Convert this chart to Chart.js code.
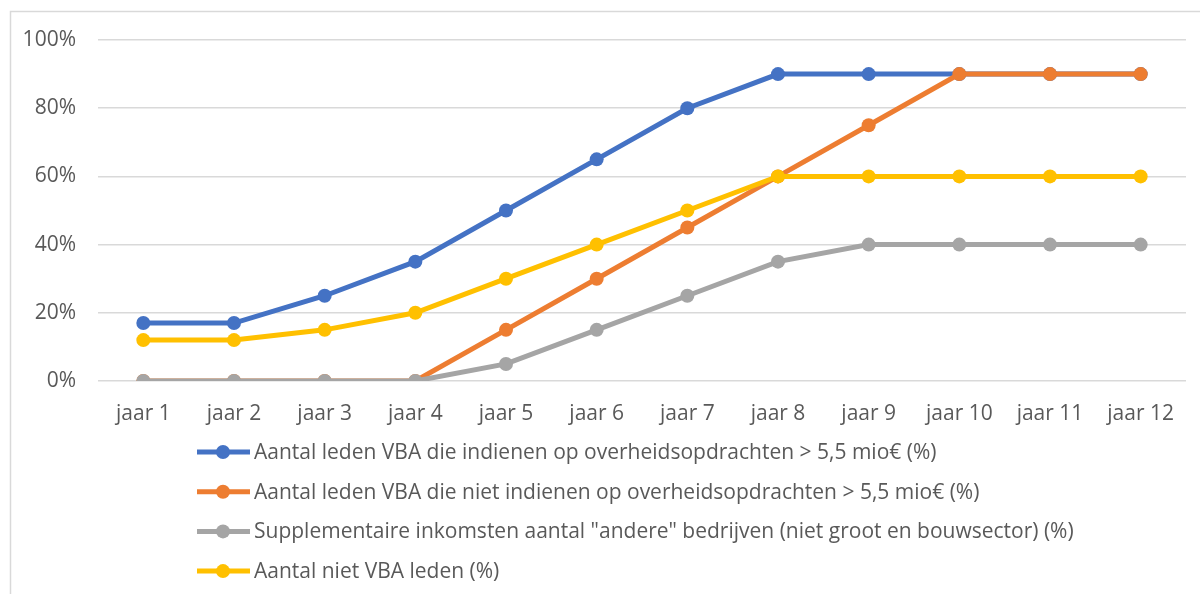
<!DOCTYPE html>
<html lang="nl">
<head>
    <meta charset="UTF-8">
    <title>VBA leden</title>
    <script src="https://cdn.jsdelivr.net/npm/chart.js"></script>
    <style>
        html, body {
            margin: 0;
            padding: 0;
            background: #ffffff;
        }
        #wrap {
            width: 1200px;
            height: 594px;
        }
    </style>
</head>
<body>
    <div id="wrap"><canvas id="chart" width="1200" height="594"></canvas></div>

    <script>
        // data
        var categories = ['jaar 1', 'jaar 2', 'jaar 3', 'jaar 4', 'jaar 5', 'jaar 6',
                          'jaar 7', 'jaar 8', 'jaar 9', 'jaar 10', 'jaar 11', 'jaar 12'];
        var ledenIndienen = [17, 17, 25, 35, 50, 65, 80, 90, 90, 90, 90, 90];
        var ledenNietIndienen = [0, 0, 0, 0, 15, 30, 45, 60, 75, 90, 90, 90];
        var andereBedrijven = [0, 0, 0, 0, 5, 15, 25, 35, 40, 40, 40, 40];
        var nietLeden = [12, 12, 15, 20, 30, 40, 50, 60, 60, 60, 60, 60];
        var yTicks = [0, 20, 40, 60, 80, 100];

        var labels = [
            'Aantal leden VBA die indienen op overheidsopdrachten > 5,5 mio€ (%)',
            'Aantal leden VBA die niet indienen op overheidsopdrachten > 5,5 mio€ (%)',
            'Supplementaire inkomsten aantal "andere" bedrijven (niet groot en bouwsector) (%)',
            'Aantal niet VBA leden (%)'
        ];
        var colors = ['#4472C4', '#ED7D31', '#A5A5A5', '#FFC000'];
        var FONT = '"Open Sans", Lato, sans-serif';
        var FSIZE = 21;

        function makeSet(i, data) {
            return {
                label: labels[i],
                data: data,
                borderColor: colors[i],
                backgroundColor: colors[i],
                borderWidth: 5,
                pointRadius: 7,
                pointHoverRadius: 7,
                pointBorderWidth: 0,
                tension: 0,
                order: 4 - i // later series on top, like the original
            };
        }

        // frame around the chart, like the office chart border
        var framePlugin = {
            id: 'frame',
            beforeDraw: function (chart) {
                var c = chart.ctx;
                c.save();
                c.strokeStyle = '#d9d9d9';
                c.lineWidth = 1.5;
                c.strokeRect(10.5, 11.5, 1200, 600);
                c.restore();
            }
        };

        // legend as a vertical list under the axis
        var legendPlugin = {
            id: 'listLegend',
            afterDraw: function (chart) {
                var c = chart.ctx;
                var x0 = chart.chartArea.left + 99;
                var y0 = chart.chartArea.bottom + 71;
                c.save();
                c.font = FSIZE + 'px ' + FONT;
                c.textBaseline = 'middle';
                chart.data.datasets.forEach(function (ds, i) {
                    var y = y0 + i * 39.7;
                    c.strokeStyle = ds.borderColor;
                    c.lineWidth = 5;
                    c.beginPath();
                    c.moveTo(x0, y);
                    c.lineTo(x0 + 53, y);
                    c.stroke();
                    c.fillStyle = ds.borderColor;
                    c.beginPath();
                    c.arc(x0 + 26, y, 7, 0, Math.PI * 2);
                    c.fill();
                    c.fillStyle = '#595959';
                    c.fillText(ds.label, x0 + 57, y + 1);
                });
                c.restore();
            }
        };

        var ctx = document.getElementById('chart').getContext('2d');
        var chart = new Chart(ctx, {
            type: 'line',
            data: {
                labels: categories,
                datasets: [
                    makeSet(0, ledenIndienen),
                    makeSet(1, ledenNietIndienen),
                    makeSet(2, andereBedrijven),
                    makeSet(3, nietLeden)
                ]
            },
            options: {
                responsive: false,
                animation: false,
                layout: {
                    padding: { left: 0, right: 14, top: 40, bottom: 163 }
                },
                plugins: {
                    legend: { display: false },
                    tooltip: { enabled: false }
                },
                scales: {
                    x: {
                        offset: true,
                        grid: { display: false },
                        border: { display: false },
                        ticks: {
                            color: '#595959',
                            font: { family: FONT, size: FSIZE },
                            padding: 12,
                            maxRotation: 0
                        },
                        afterFit: function (scale) { scale.height = 50; }
                    },
                    y: {
                        min: 0,
                        max: 100,
                        afterBuildTicks: function (scale) {
                            scale.ticks = yTicks.map(function (v) { return { value: v }; });
                        },
                        grid: { color: '#d9d9d9', lineWidth: 1.5, drawTicks: false },
                        border: { display: false },
                        ticks: {
                            color: '#595959',
                            font: { family: FONT, size: FSIZE },
                            padding: 22,
                            callback: function (v) { return v + '%'; }
                        },
                        afterFit: function (scale) { scale.width = 98; }
                    }
                }
            },
            plugins: [framePlugin, legendPlugin]
        });
    </script>
</body>
</html>
